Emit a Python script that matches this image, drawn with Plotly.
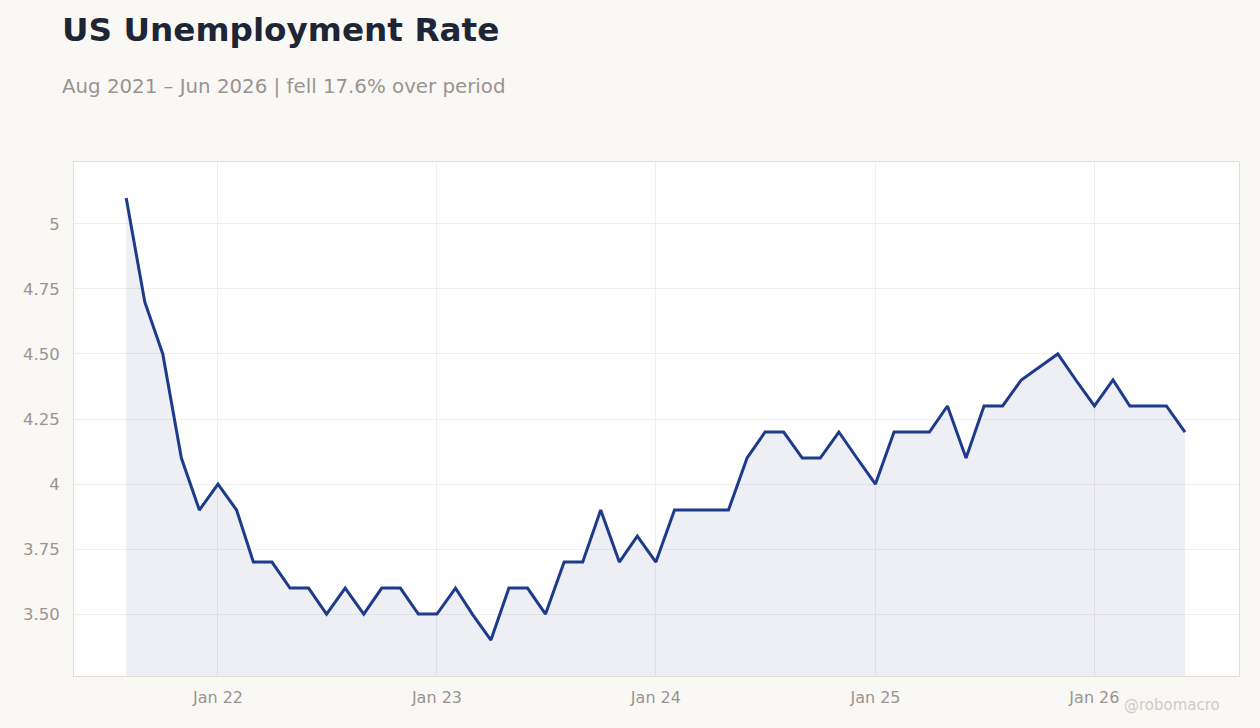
import plotly.graph_objects as go
import pandas as pd

dates = pd.date_range("2021-08-01", "2026-06-01", freq="MS")
rate = [5.1, 4.7, 4.5, 4.1, 3.9, 4.0, 3.9, 3.7, 3.7, 3.6, 3.6, 3.5, 3.6, 3.5, 3.6, 3.6, 3.5,
        3.5, 3.6, 3.5, 3.4, 3.6, 3.6, 3.5, 3.7, 3.7, 3.9, 3.7, 3.8,
        3.7, 3.9, 3.9, 3.9, 3.9, 4.1, 4.2, 4.2, 4.1, 4.1, 4.2, 4.1,
        4.0, 4.2, 4.2, 4.2, 4.3, 4.1, 4.3, 4.3, 4.4, 4.45, 4.5, 4.4,
        4.3, 4.4, 4.3, 4.3, 4.3, 4.2]
ytick_vals = [3.5, 3.75, 4, 4.25, 4.5, 4.75, 5]
ytick_text = ["3.50", "3.75", "4", "4.25", "4.50", "4.75", "5"]
xtick_vals = ["2022-01-01", "2023-01-01", "2024-01-01", "2025-01-01", "2026-01-01"]
xtick_text = ["Jan 22", "Jan 23", "Jan 24", "Jan 25", "Jan 26"]

fig = go.Figure(go.Scatter(x=dates, y=rate, mode="lines",
                           line=dict(color="#1e3a8a", width=3),
                           fill="tozeroy", fillcolor="rgba(40,50,130,0.08)"))
font = "DejaVu Sans"
fig.update_layout(
    width=1260, height=728, paper_bgcolor="#f9f8f5", plot_bgcolor="white",
    margin=dict(l=74, r=21, t=162, b=52), showlegend=False,
    font=dict(family=font, color="#999490", size=16),
)
fig.add_annotation(text="<b>US Unemployment Rate</b>", xref="paper", yref="paper",
                   x=-0.012, y=1.0 + (162 - 30) / 514, xanchor="left", yanchor="middle",
                   showarrow=False, font=dict(size=32.7, color="#1e2636", family=font))
fig.add_annotation(text="Aug 2021 – Jun 2026 | fell 17.6% over period", xref="paper", yref="paper",
                   x=-0.012, y=1.0 + (162 - 86) / 514, xanchor="left", yanchor="middle",
                   showarrow=False, font=dict(size=19.8, color="#999490", family=font))
fig.add_annotation(text="@robomacro", xref="paper", yref="paper",
                   x=1.0 - 17 / 1165, y=-(705 - 676) / 514, xanchor="right", yanchor="middle",
                   showarrow=False, font=dict(size=15, color="#d0ccc8", family=font))
fig.update_xaxes(range=["2021-05-06", "2026-08-30"], tickvals=xtick_vals, ticktext=xtick_text,
                 showgrid=True, gridcolor="#f0efed", showline=True, linecolor="#e2ddd6",
                 mirror=True, ticks="", zeroline=False, ticklabelstandoff=7)
fig.update_yaxes(range=[3.262, 5.238], tickvals=ytick_vals, ticktext=ytick_text,
                 showgrid=True, gridcolor="#f0efed", showline=True, linecolor="#e2ddd6",
                 mirror=True, ticks="", zeroline=False, tickfont=dict(size=16.5),
                 ticklabelstandoff=10)
fig.write_html("out.html", config={"displayModeBar": False})
with open("out.html", encoding="utf-8") as f:
    html = f.read()
html = html.replace("<head>", "<head><style>html,body{margin:0;padding:0;overflow:hidden;}</style>", 1)
with open("out.html", "w", encoding="utf-8") as f:
    f.write(html)
